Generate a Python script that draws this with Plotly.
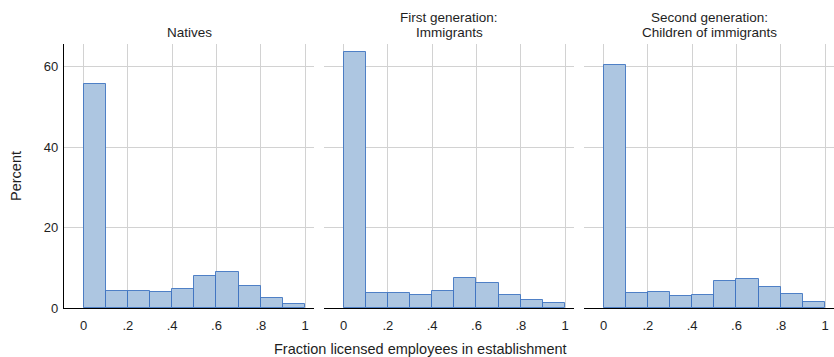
import plotly.graph_objects as go
from plotly.subplots import make_subplots

# Histogram bins (fraction of licensed employees), width 0.1
bin_left = [0.0, 0.1, 0.2, 0.3, 0.4, 0.5, 0.6, 0.7, 0.8, 0.9]
bin_width = 0.1

# Panel titles, one list of lines per panel
panel_titles = [["Natives"], ["First generation:", "Immigrants"], ["Second generation:", "Children of immigrants"]]

# Percent of establishments in each bin
natives = [55.6, 4.2, 4.3, 3.9, 4.6, 7.9, 8.9, 5.4, 2.5, 0.9]
first_gen = [63.6, 3.7, 3.7, 3.3, 4.3, 7.45, 6.2, 3.3, 2.05, 1.15]
second_gen = [60.4, 3.7, 4.0, 3.1, 3.3, 6.7, 7.2, 5.2, 3.55, 1.5]

x_ticks = [0, 0.2, 0.4, 0.6, 0.8, 1]
x_tick_text = ["0", ".2", ".4", ".6", ".8", "1"]
y_ticks = [0, 20, 40, 60]

series = [natives, first_gen, second_gen]

FONT = "Liberation Sans, Arial, sans-serif"
fill = "rgba(173,198,225,1)"
edge = "rgba(55,110,190,0.85)"
grid = "#d2d2d2"
text_col = "#1e1e1e"

fig = make_subplots(rows=1, cols=3, shared_yaxes=True, horizontal_spacing=0.013)

for i, vals in enumerate(series, start=1):
    fig.add_trace(
        go.Bar(
            x=bin_left,
            y=vals,
            width=[bin_width] * len(bin_left),
            offset=0,
            marker=dict(color=fill, line=dict(color=edge, width=1)),
            showlegend=False,
            hoverinfo="x+y",
        ),
        row=1, col=i,
    )

domains = [[0, 250 / 770], [260 / 770, 510 / 770], [520 / 770, 1]]
for i in range(3):
    key = "xaxis" if i == 0 else f"xaxis{i + 1}"
    fig.layout[key].update(
        domain=domains[i],
        range=[-0.088, 1.04],
        tickvals=x_ticks,
        ticktext=x_tick_text,
        showgrid=True,
        gridcolor=grid,
        gridwidth=1,
        zeroline=False,
        showline=True,
        linecolor="black",
        linewidth=1.3,
        ticks="outside",
        ticklen=5,
        tickcolor="rgba(0,0,0,0)",
        tickfont=dict(family=FONT, size=13, color=text_col),
    )
    ykey = "yaxis" if i == 0 else f"yaxis{i + 1}"
    fig.layout[ykey].update(
        range=[0, 65.6],
        tickvals=y_ticks,
        showgrid=True,
        gridcolor=grid,
        gridwidth=1,
        zeroline=False,
        showline=(i == 0),
        linecolor="black",
        linewidth=1.3,
        ticks="outside",
        ticklen=2,
        tickcolor="rgba(0,0,0,0)",
        tickfont=dict(family=FONT, size=13, color=text_col),
    )

fig.update_yaxes(title=dict(text="Percent", font=dict(family=FONT, size=14.5, color=text_col), standoff=18), row=1, col=1)

# Panel titles, stacked bottom-up above each panel
for i, lines in enumerate(panel_titles):
    d = domains[i]
    for j, line in enumerate(reversed(lines)):
        fig.add_annotation(
            x=(d[0] + d[1]) / 2, y=1, xref="paper", yref="paper",
            xanchor="center", yanchor="bottom", yshift=2 + 15 * j,
            text=line, showarrow=False,
            font=dict(family=FONT, size=13.5, color=text_col),
        )

# Shared x-axis title, centred on the whole figure
fig.add_annotation(
    x=0.5, y=0, xref="paper", yref="paper", xanchor="center", yanchor="top",
    xshift=-29, yshift=-31, text="Fraction licensed employees in establishment", showarrow=False,
    font=dict(family=FONT, size=14.5, color=text_col),
)

fig.update_layout(
    width=834, height=357,
    margin=dict(l=64, r=0, t=44, b=49),
    paper_bgcolor="white", plot_bgcolor="white",
    bargap=0,
)

fig.write_html("out.html")
